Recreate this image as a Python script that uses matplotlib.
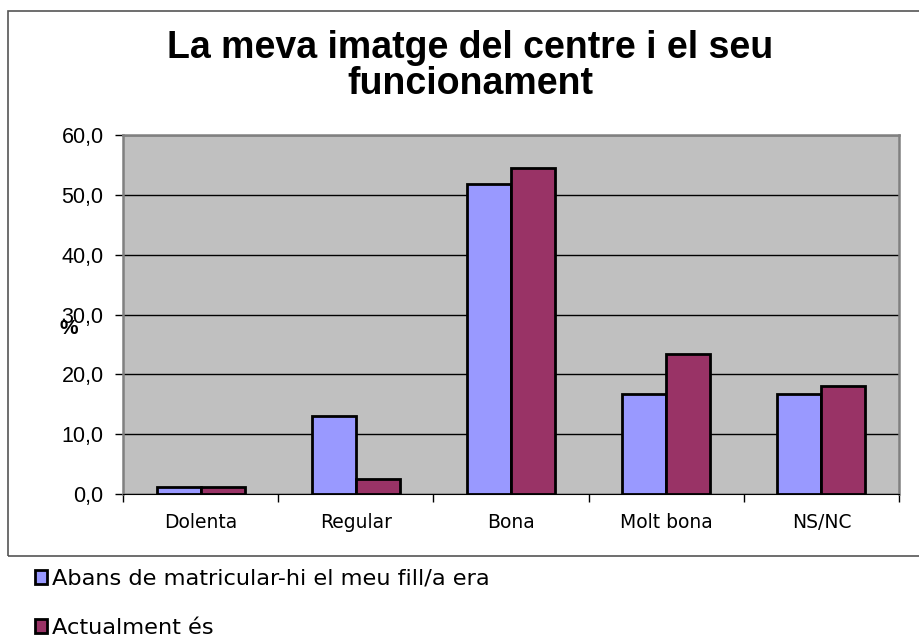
import matplotlib.pyplot as plt
from matplotlib.patches import Rectangle, Patch
import numpy as np

plt.rcParams['font.family'] = ['Liberation Sans', 'DejaVu Sans']

categories = ['Dolenta', 'Regular', 'Bona', 'Molt bona', 'NS/NC']
abans = [1.2, 13.0, 51.8, 16.7, 16.7]
actual = [1.2, 2.5, 54.5, 23.4, 18.1]
series_names = ['Abans de matricular-hi el meu fill/a era', 'Actualment és']
colors = ['#9999ff', '#993366']
yticks = [0, 10, 20, 30, 40, 50, 60]

fig = plt.figure(figsize=(9.2, 6.41), dpi=100)

# chart border (right side runs off the picture)
fig.patches.append(Rectangle((8 / 920, 1 - 556 / 641), 930 / 920, (556 - 11) / 641,
                             transform=fig.transFigure, fill=False,
                             edgecolor='#555555', linewidth=1.2))

ax = fig.add_axes([123 / 920, 1 - 494 / 641, 776 / 920, 359 / 641])
ax.set_facecolor('#c0c0c0')

x = np.arange(len(categories))
w = 0.283
ax.bar(x - w / 2, abans, w, color=colors[0], edgecolor='black', linewidth=2, zorder=3)
ax.bar(x + w / 2, actual, w, color=colors[1], edgecolor='black', linewidth=2, zorder=3)

ax.set_xlim(-0.5, len(categories) - 0.5)
ax.set_ylim(0, 60)
ax.set_yticks(yticks)
ax.set_yticklabels([('%.1f' % v).replace('.', ',') for v in yticks])
ax.set_xticks(x)
ax.set_xticklabels(categories, family='DejaVu Sans', fontsize=13.5)
ax.set_xticks(np.arange(-0.5, len(categories)), minor=True)
ax.tick_params(axis='x', which='major', length=0, pad=14)
ax.tick_params(axis='x', which='minor', length=6, width=1, color='black')
ax.tick_params(axis='y', length=6, width=1, color='black', labelsize=15.5, pad=8)
ax.yaxis.grid(True, color='black', linewidth=1, zorder=1)
ax.set_axisbelow(True)
for s in ['top', 'right', 'left']:
    ax.spines[s].set_color('#808080')
    ax.spines[s].set_linewidth(1.8)
ax.spines['bottom'].set_color('black')

fig.text(69 / 920, 1 - 328 / 641, '%', fontsize=15, fontweight='bold', ha='center', va='center')
fig.text(470 / 920, 1 - 66 / 641, 'La meva imatge del centre i el seu\nfuncionament',
         fontsize=27, fontweight='bold', ha='center', va='center', linespacing=1.02)

handles = [Patch(facecolor=c, edgecolor='black', linewidth=2) for c in colors]
fig.legend(handles, series_names, loc='upper left', bbox_to_anchor=(19 / 920, 1 - 553 / 641),
           frameon=False, prop={'family': 'DejaVu Sans', 'size': 16.2}, labelspacing=1.3,
           handlelength=0.55, handleheight=0.55, handletextpad=0.2, borderpad=0.2)

fig.savefig('out.png', dpi=100)
